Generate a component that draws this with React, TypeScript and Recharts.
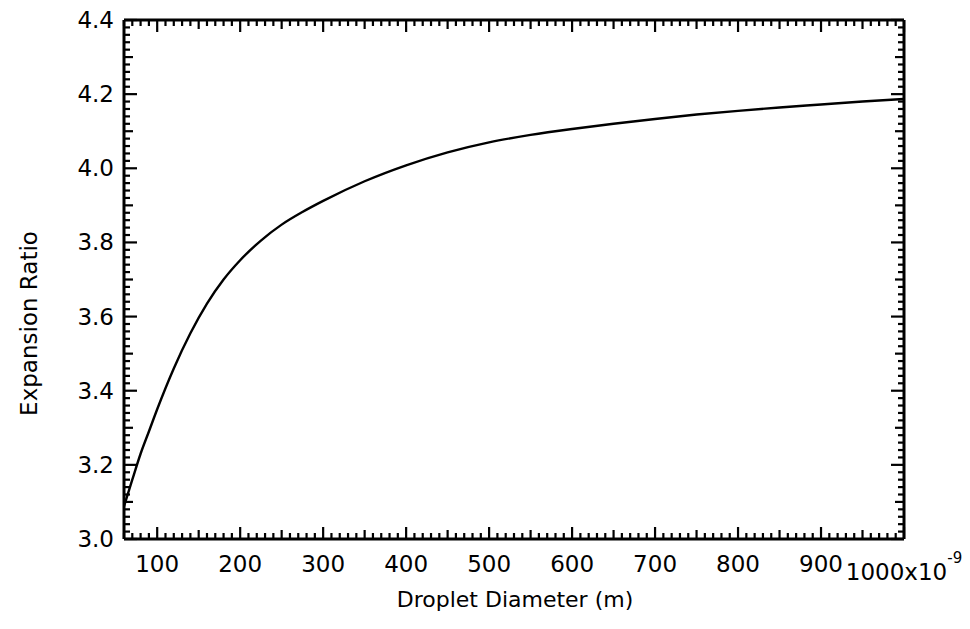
import { Line, LineChart, XAxis, YAxis } from "recharts";

document.body.style.margin = "0";

// Droplet diameter (x10^-9 m) and expansion ratio.
const diameters = [60, 70, 80, 90, 100, 120, 140, 160, 180, 200, 225, 250, 275, 300, 350, 400, 450, 500, 550, 600, 650, 700, 750, 800, 850, 900, 950, 1000];
const ratios = [3.088, 3.16, 3.23, 3.29, 3.35, 3.46, 3.555, 3.635, 3.7, 3.752, 3.805, 3.848, 3.882, 3.912, 3.965, 4.008, 4.043, 4.07, 4.09, 4.106, 4.12, 4.133, 4.145, 4.155, 4.164, 4.172, 4.18, 4.187];

const xLabels = [100, 200, 300, 400, 500, 600, 700, 800, 900];
const yLabels = ["3.0", "3.2", "3.4", "3.6", "3.8", "4.0", "4.2", "4.4"];

const X_DOMAIN: [number, number] = [60, 1000];
const Y_DOMAIN: [number, number] = [3, 4.4];

// minor ticks every 10 (x) and 0.02 (y)
const xTicks = Array.from({ length: 95 }, (_, i) => 60 + i * 10);
const yTicks = Array.from({ length: 71 }, (_, i) => Math.round((3 + i * 0.02) * 100) / 100);

const data = diameters.map((d, i) => ({ d, r: ratios[i] }));

const INK = "#000";
const FONT = "DejaVu Sans";
const FS = 23;

function xLen(v: number) {
  return v % 100 === 0 ? 12 : v % 50 === 0 ? 9 : 6;
}
function yLen(v: number) {
  const n = Math.round(v * 100);
  return n % 20 === 0 ? 13 : n % 10 === 0 ? 9 : 6;
}

function BottomTick({ x, y, payload }: any) {
  const v = payload.value;
  const len = xLen(v);
  return (
    <g>
      <line x1={x} x2={x} y1={y} y2={y - len} stroke={INK} strokeWidth={2.2} />
      {xLabels.includes(v) && (
        <text x={x} y={y + 33} textAnchor="middle" fontSize={FS} fill={INK}>
          {v}
        </text>
      )}
      {v === 1000 && (
        <text x={x} y={y + 41} textAnchor="middle" fontSize={FS} fill={INK}>
          1000x10
          <tspan dy={-17} fontSize={15}>
            -9
          </tspan>
        </text>
      )}
    </g>
  );
}

function TopTick({ x, y, payload }: any) {
  const len = xLen(payload.value);
  return <line x1={x} x2={x} y1={y} y2={y + len} stroke={INK} strokeWidth={2.2} />;
}

function LeftTick({ x, y, payload }: any) {
  const v = payload.value;
  const len = yLen(v);
  const label = yLabels.find((l) => Math.abs(parseFloat(l) - v) < 1e-6);
  return (
    <g>
      <line x1={x} x2={x + len} y1={y} y2={y} stroke={INK} strokeWidth={2.2} />
      {label && (
        <text x={x - 10} y={y + 8} textAnchor="end" fontSize={FS} fill={INK}>
          {label}
        </text>
      )}
    </g>
  );
}

function RightTick({ x, y, payload }: any) {
  const len = yLen(payload.value);
  return <line x1={x} x2={x - len} y1={y} y2={y} stroke={INK} strokeWidth={2.2} />;
}

export default function App() {
  const axisLine = { stroke: INK, strokeWidth: 3 };
  return (
    <div style={{ width: 970, height: 629, background: "#fff", fontFamily: FONT }}>
      <LineChart width={970} height={629} data={data} margin={{ top: 19, right: 65, left: 0, bottom: 0 }}>
        <XAxis
          dataKey="d"
          type="number"
          domain={X_DOMAIN}
          ticks={xTicks}
          interval={0}
          allowDataOverflow
          height={90}
          tickSize={0}
          tickMargin={0}
          tickLine={false}
          axisLine={axisLine}
          tick={BottomTick}
          label={{
            content: ({ viewBox }: any) => (
              <text x={viewBox.x + viewBox.width / 2 + 1} y={viewBox.y + 68} textAnchor="middle" fontSize={FS - 1} fill={INK}>
                Droplet Diameter (m)
              </text>
            ),
          }}
        />
        <XAxis
          xAxisId="top"
          orientation="top"
          dataKey="d"
          type="number"
          domain={X_DOMAIN}
          ticks={xTicks}
          interval={0}
          allowDataOverflow
          height={1}
          tickSize={0}
          tickMargin={0}
          tickLine={false}
          axisLine={axisLine}
          tick={TopTick}
        />
        <YAxis
          type="number"
          domain={Y_DOMAIN}
          ticks={yTicks}
          interval={0}
          allowDataOverflow
          width={124}
          tickSize={0}
          tickMargin={0}
          tickLine={false}
          axisLine={axisLine}
          tick={LeftTick}
          label={{
            content: ({ viewBox }: any) => {
              const cx = viewBox.x + 37;
              const cy = viewBox.y + viewBox.height / 2 + 44;
              return (
                <text x={cx} y={cy} textAnchor="middle" fontSize={FS} fill={INK} transform={`rotate(-90, ${cx}, ${cy})`}>
                  Expansion Ratio
                </text>
              );
            },
          }}
        />
        <YAxis
          yAxisId="right"
          orientation="right"
          type="number"
          domain={Y_DOMAIN}
          ticks={yTicks}
          interval={0}
          allowDataOverflow
          width={1}
          tickSize={0}
          tickMargin={0}
          tickLine={false}
          axisLine={axisLine}
          tick={RightTick}
        />
        <Line dataKey="r" type="monotone" stroke={INK} strokeWidth={2.4} dot={false} isAnimationActive={false} />
        <Line
          dataKey="r"
          xAxisId="top"
          yAxisId="right"
          type="monotone"
          stroke="transparent"
          dot={false}
          legendType="none"
          isAnimationActive={false}
        />
      </LineChart>
    </div>
  );
}
